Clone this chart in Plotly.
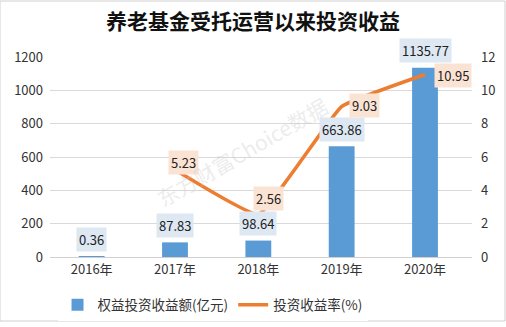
import plotly.graph_objects as go

years = ["2016年", "2017年", "2018年", "2019年", "2020年"]
income = [0.36, 87.83, 98.64, 663.86, 1135.77]
rate = [None, 5.23, 2.56, 9.03, 10.95]
income_labels = ["0.36", "87.83", "98.64", "663.86", "1135.77"]
rate_labels = [None, "5.23", "2.56", "9.03", "10.95"]
left_ticks = [0, 200, 400, 600, 800, 1000, 1200]
right_ticks = [0, 2, 4, 6, 8, 10, 12]

# label offsets (style)
rate_xshift = [0, 8, 10, 23, 28]
rate_yshift = [0, 7, 16, 1, -1]

FONT = "Noto Sans CJK SC"

fig = go.Figure()
fig.add_trace(go.Bar(
    x=years, y=income, name="权益投资收益额(亿元)",
    marker=dict(color="#5b9bd5", line=dict(width=0)),
    width=0.31, yaxis="y",
))
fig.add_trace(go.Scatter(
    x=years, y=rate, name="投资收益率(%)", mode="lines",
    line=dict(color="#ed7d31", width=3.5, shape="spline", smoothing=0.3),
    yaxis="y2", connectgaps=False,
))

ann = []
for x, v, t in zip(years, income, income_labels):
    ann.append(dict(x=x, y=v, xref="x", yref="y", text=t, showarrow=False,
                    yshift=17, bgcolor="#dde8f3", borderpad=2,
                    font=dict(size=13, color="#222", family=FONT)))
for i, (x, v, t) in enumerate(zip(years, rate, rate_labels)):
    if v is None:
        continue
    ann.append(dict(x=x, y=v, xref="x", yref="y2", text=t, showarrow=False,
                    xshift=rate_xshift[i], yshift=rate_yshift[i],
                    bgcolor="#fbe3d4", borderpad=2,
                    font=dict(size=13, color="#222", family=FONT)))
ann.append(dict(x=0.455, y=0.525, xref="paper", yref="paper",
                text="东方财富Choice数据", showarrow=False, textangle=-30,
                font=dict(size=21, color="rgba(200,200,200,0.35)", family=FONT)))

fig.update_layout(
    width=506, height=327,
    margin=dict(l=50, r=34, t=57, b=70, autoexpand=False),
    paper_bgcolor="white", plot_bgcolor="white",
    font=dict(family=FONT, size=13, color="#333"),
    title=dict(text="<b>养老基金受托运营以来投资收益</b>", x=0.5, xanchor="center",
               xref="container", yref="container", y=1 - 22/327, yanchor="middle",
               font=dict(size=21, color="#111", family=FONT)),
    showlegend=True,
    legend=dict(orientation="h", x=0.42, xanchor="center", xref="container", yref="container",
                y=22/327, yanchor="middle",
                font=dict(size=13.5, color="#333"), tracegroupgap=0),
    bargap=0.69,
    xaxis=dict(showgrid=False, showline=True, linecolor="#d0d0d0", ticks="",
               tickfont=dict(size=13, color="#333")),
    yaxis=dict(range=[0, 1200], tickvals=left_ticks, showgrid=True, gridcolor="#d9d9d9",
               zeroline=False, ticks="", tickfont=dict(size=13, color="#333"), ticklabelstandoff=6),
    yaxis2=dict(range=[0, 12], tickvals=right_ticks, overlaying="y", side="right",
                showgrid=False, zeroline=False, ticks="", tickfont=dict(size=13, color="#333"),
                ticklabelstandoff=8),
    annotations=ann,
    shapes=[dict(type="rect", xref="paper", yref="paper",
                 x0=-50/422, x1=1+33/422, y0=-64/200, y1=1+56/200,
                 line=dict(color="#d0d0d0", width=1))],
)

fig.write_html("out.html")
